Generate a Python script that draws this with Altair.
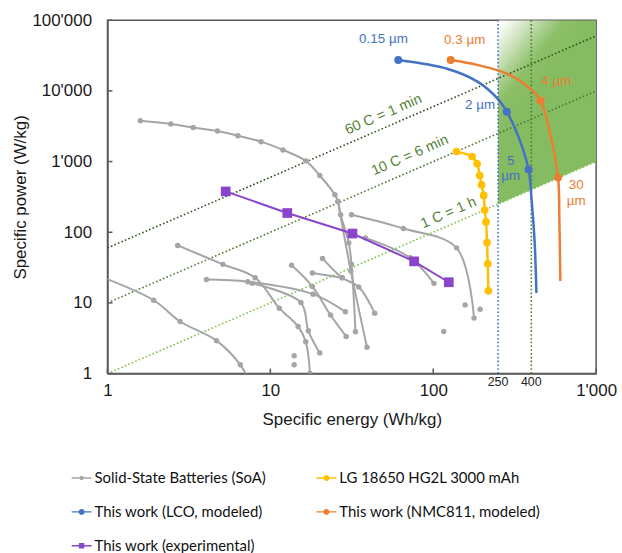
import altair as alt
import pandas as pd

# ---------------- data ----------------
# Solid-state batteries (state of the art), several curves
SOA_A_E = [1.59, 2.45, 3.36, 4.73, 6.32, 8.77, 11.95, 16.5, 20.1, 24.9, 26.0, 27.0, 30.3, 31.5, 33.3]
SOA_A_P = [3780, 3400, 3040, 2706, 2323, 1914, 1462, 1023, 635, 340, 273, 177, 70.7, 35.1, 3.9]
SOA_B_E = [26.0, 31.2, 39.2]
SOA_B_P = [273, 28.2, 2.35]
SOA_C_E = [31.5, 65.6, 139, 178]
SOA_C_P = [177, 113, 60.1, 6.09]
SOA_D_E = [38.3, 72.1, 101]
SOA_D_P = [83.2, 43.5, 18.9]
SOA_E_E = [0.85, 1.92, 2.79, 4.67, 6.54, 7.3]
SOA_E_P = [25, 10.9, 5.45, 2.92, 1.33, 0.85]
SOA_F_E = [2.70, 5.12, 8.07, 11.35, 14.8, 16.5, 17.5]
SOA_F_P = [65, 35.1, 22.7, 8.42, 4.64, 2.82, 1.01]
SOA_G_E = [4.05, 7.27, 18.3, 28.9]
SOA_G_P = [21.4, 19.95, 13.3, 7.47]
SOA_K_E = [7.74, 15.4, 17.1, 20.1]
SOA_K_P = [18.9, 10.1, 4.03, 1.96]
SOA_H_E = [13.5, 18.1, 23.4, 29.2]
SOA_H_P = [34, 17.1, 6.73, 3.35]
SOA_I_E = [20.9, 27.6, 34.9, 43.7]
SOA_I_P = [42.6, 22.7, 16.8, 7.16]
SOA_J_E = [18.1, 27.6]
SOA_J_P = [26.5, 22.7]
SOA_DOT_E = [14.0, 14.0, 157, 194, 116]
SOA_DOT_P = [1.79, 1.33, 9.37, 8.15, 3.94]

# LG 18650 HG2L 3000 mAh
LG_E = [139, 173, 186, 193, 198, 204, 207, 211, 214, 216, 218]
LG_P = [1383, 1175, 929, 635, 470, 332, 206, 140, 71.4, 35.8, 14.8]

# This work (LCO, modeled): curve and marked points
LCO_E = [61, 123, 188, 249, 283, 330, 385, 401, 419, 430]
LCO_P = [27300, 20400, 13400, 7710, 5060, 2400, 771, 301, 74.7, 13.8]
LCO_MARK_E = [61, 283, 385]
LCO_MARK_P = [27300, 5060, 771]

# This work (NMC811, modeled)
NMC_E = [128, 188, 287, 396, 456, 524, 584, 595, 603]
NMC_P = [27300, 23200, 17350, 10670, 7230, 2400, 595, 143, 20.4]
NMC_MARK_E = [128, 456, 584]
NMC_MARK_P = [27300, 7230, 595]

# This work (experimental)
EXP_E = [5.32, 12.7, 31.9, 76.3, 124.6]
EXP_P = [378, 187, 95.9, 38.7, 19.6]

# C-rate reference lines (P = C * E)
CRATE_E = [1, 1000]
C1_P = [1, 1000]
C10_P = [10, 10000]
C60_P = [60, 60000]

# Target region (>= 250 Wh/kg, above 1 C)
REGION_E = [250, 1000]
REGION_LOW = [250, 1000]
REGION_HIGH = [100000, 100000]

VLINE_BLUE = [250]
VLINE_GREEN = [400]

X_TICKS = [1, 10, 100, 1000]
Y_TICKS = [1, 10, 100, 1000, 10000, 100000]

NAMES = ["Solid-State Batteries (SoA)", "LG 18650 HG2L 3000 mAh",
         "This work (LCO, modeled)", "This work (NMC811, modeled)",
         "This work (experimental)"]
COLORS = ["#A5A5A5", "#FFC000", "#4472C4", "#ED7D31", "#8B45CC"]

# ---------------- build ----------------
W, H = 491, 355
FONT = "Liberation Sans"

xs = alt.Scale(type="log", domain=[1, 1000], nice=False)
ys = alt.Scale(type="log", domain=[1, 100000], nice=False)

label_expr = "replace(format(datum.value, ','), ',', \"'\")"

X_AXIS = alt.Axis(values=X_TICKS, labelExpr=label_expr, ticks=False, grid=False,
                  title="Specific energy (Wh/kg)", labelFlush=False, labelOverlap=False,
                  labelPadding=9, titlePadding=13)
Y_AXIS = alt.Axis(values=Y_TICKS, labelExpr=label_expr, ticks=False, grid=False,
                  title="Specific power (W/kg)", labelFlush=False, labelOverlap=False,
                  labelPadding=16, titlePadding=2)

def X(field="E"):
    return alt.X(f"{field}:Q", scale=xs, axis=X_AXIS)

def Y(field="P"):
    return alt.Y(f"{field}:Q", scale=ys, axis=Y_AXIS)

def df(e, p):
    return pd.DataFrame({"E": e, "P": p, "i": range(len(e))})

soa = [SOA_A_E, SOA_A_P, SOA_B_E, SOA_B_P, SOA_C_E, SOA_C_P, SOA_D_E, SOA_D_P,
       SOA_E_E, SOA_E_P, SOA_F_E, SOA_F_P, SOA_G_E, SOA_G_P, SOA_K_E, SOA_K_P,
       SOA_H_E, SOA_H_P, SOA_I_E, SOA_I_P, SOA_J_E, SOA_J_P]
frames = []
for k in range(0, len(soa), 2):
    f = df(soa[k], soa[k + 1])
    f["curve"] = k
    frames.append(f)
soa_df = pd.concat(frames, ignore_index=True)
soa_pts = pd.concat([soa_df, df(SOA_DOT_E, SOA_DOT_P)], ignore_index=True)

# green target region with fading gradient
region = alt.Chart(pd.DataFrame({"E": REGION_E, "P": REGION_LOW, "hi": REGION_HIGH})).mark_area(
    color=alt.Gradient(gradient="linear",
                       stops=[alt.GradientStop(color="#FFFFFF", offset=0),
                              alt.GradientStop(color="#FFFFFF", offset=0.06),
                              alt.GradientStop(color="#8CBF68", offset=0.7),
                              alt.GradientStop(color="#86BC61", offset=1)],
                       x1=0, y1=0, x2=0.3, y2=0.45),
    clip=True
).encode(x=X(), y=Y(), y2="hi:Q")

def crate(p, color):
    return alt.Chart(df(CRATE_E, p)).mark_line(
        color=color, strokeWidth=1.6, strokeDash=[1.6, 2.2], clip=True
    ).encode(x=X(), y=Y())

c60 = crate(C60_P, "#2F4F1F")
c10 = crate(C10_P, "#4E7A30")
c1 = crate(C1_P, "#7DC24B")

vblue = alt.Chart(pd.DataFrame({"E": VLINE_BLUE})).mark_rule(
    color="#4472C4", strokeWidth=1.6, strokeDash=[1.6, 2.2]).encode(x=X())
vgreen = alt.Chart(pd.DataFrame({"E": VLINE_GREEN})).mark_rule(
    color="#4E7A30", strokeWidth=1.6, strokeDash=[1.6, 2.2]).encode(x=X())

soa_line = alt.Chart(soa_df).mark_line(
    color="#A5A5A5", strokeWidth=2, interpolate="catmull-rom", clip=True
).encode(x=X(), y=Y(), detail="curve:N", order="i:Q")
soa_dot = alt.Chart(soa_pts).mark_circle(
    color="#A5A5A5", size=30, opacity=1, clip=True).encode(x=X(), y=Y())

exp_line = alt.Chart(df(EXP_E, EXP_P)).mark_line(
    color="#8B45CC", strokeWidth=2).encode(x=X(), y=Y(), order="i:Q")
exp_pt = alt.Chart(df(EXP_E, EXP_P)).mark_square(
    color="#8B45CC", size=95, opacity=1).encode(x=X(), y=Y())

lg_line = alt.Chart(df(LG_E, LG_P)).mark_line(
    color="#FFC000", strokeWidth=2.5, interpolate="catmull-rom").encode(x=X(), y=Y(), order="i:Q")
lg_pt = alt.Chart(df(LG_E, LG_P)).mark_circle(
    color="#FFC000", size=60, opacity=1).encode(x=X(), y=Y())

lco_line = alt.Chart(df(LCO_E, LCO_P)).mark_line(
    color="#4472C4", strokeWidth=2.5, interpolate="catmull-rom").encode(x=X(), y=Y(), order="i:Q")
lco_pt = alt.Chart(df(LCO_MARK_E, LCO_MARK_P)).mark_circle(
    color="#4472C4", size=65, opacity=1).encode(x=X(), y=Y())

nmc_line = alt.Chart(df(NMC_E, NMC_P)).mark_line(
    color="#ED7D31", strokeWidth=2.5, interpolate="catmull-rom").encode(x=X(), y=Y(), order="i:Q")
nmc_pt = alt.Chart(df(NMC_MARK_E, NMC_MARK_P)).mark_circle(
    color="#ED7D31", size=65, opacity=1).encode(x=X(), y=Y())

# annotations (positions given in data space; first line of multi-line labels)
ann = pd.DataFrame({
    "E": [49.5, 156, 240, 570, 299, 755],
    "P": [54600, 52300, 6350, 13800, 1033, 459],
    "t": ["0.15 µm", "0.3 µm", "2 µm", "4 µm", "5\nµm", "30\nµm"],
    "c": ["#4472C4", "#ED7D31", "#4472C4", "#ED7D31", "#4472C4", "#ED7D31"],
    "a": ["center", "center", "right", "center", "center", "center"],
})
ann_layers = []
for _, r in ann.iterrows():
    ann_layers.append(alt.Chart(pd.DataFrame([r])).mark_text(
        font=FONT, fontSize=13.5, color=r["c"], align=r["a"], baseline="middle",
        lineBreak="\n", lineHeight=16).encode(x=X(), y=Y(), text="t:N"))

crate_lab = pd.DataFrame({
    "E": [49.5, 72.1, 124.6],
    "P": [4590, 1215, 187],
    "t": ["60 C = 1 min", "10 C = 6 min", "1 C = 1 h"],
})
crate_text = alt.Chart(crate_lab).mark_text(
    font=FONT, fontSize=14.5, color="#548235", angle=336.55, align="center", baseline="middle"
).encode(x=X(), y=Y(), text="t:N")

# inward ticks
xt = alt.Chart(pd.DataFrame({"E": X_TICKS})).mark_rule(color="#595959", strokeWidth=1.5).encode(
    x=X(), y=alt.value(H - 5), y2=alt.value(H))
yt = alt.Chart(pd.DataFrame({"P": Y_TICKS})).mark_rule(color="#595959", strokeWidth=1.5).encode(
    y=Y(), x=alt.value(0), x2=alt.value(5))

# small labels for 250 and 400
vlab = alt.Chart(pd.DataFrame({"E": VLINE_BLUE + VLINE_GREEN, "t": ["250", "400"]})).mark_text(
    font=FONT, fontSize=12.5, color="#222222", baseline="middle"
).encode(x=X(), y=alt.value(H + 9), text="t:N")

# legend carrier (points outside the domain, clipped away)
shape_paths = [
    "M-1,-0.07H-0.2V0.07H-1Z M0.2,-0.07H1V0.07H0.2Z M0.22,0A0.22,0.22 0 1,1 -0.22,0A0.22,0.22 0 1,1 0.22,0Z",
    "M-1,-0.07H-0.28V0.07H-1Z M0.28,-0.07H1V0.07H0.28Z M0.3,0A0.3,0.3 0 1,1 -0.3,0A0.3,0.3 0 1,1 0.3,0Z",
    "M-1,-0.07H-0.28V0.07H-1Z M0.28,-0.07H1V0.07H0.28Z M0.3,0A0.3,0.3 0 1,1 -0.3,0A0.3,0.3 0 1,1 0.3,0Z",
    "M-1,-0.07H-0.28V0.07H-1Z M0.28,-0.07H1V0.07H0.28Z M0.3,0A0.3,0.3 0 1,1 -0.3,0A0.3,0.3 0 1,1 0.3,0Z",
    "M-1,-0.07H-0.27V0.07H-1Z M0.27,-0.07H1V0.07H0.27Z M-0.27,-0.27H0.27V0.27H-0.27Z",
]
LEG = alt.Legend(
    title=None, orient="none", legendX=-36, legendY=450, columns=2, direction="horizontal",
    columnPadding=50, rowPadding=16, labelFont="Lato", labelFontSize=15, labelColor="#111111",
    labelLimit=400, symbolSize=400, symbolStrokeWidth=0, labelOffset=3, gridAlign="each")
leg_df = pd.DataFrame({"name": NAMES, "E": [0.5] * 5, "P": [0.5] * 5})
legend_layer = alt.Chart(leg_df).mark_point(filled=True, opacity=1, size=400, clip=True).encode(
    x=X(), y=Y(),
    color=alt.Color("name:N", scale=alt.Scale(domain=NAMES, range=COLORS), legend=LEG),
    shape=alt.Shape("name:N", scale=alt.Scale(domain=NAMES, range=shape_paths), legend=LEG),
)

chart = alt.layer(
    region, c60, c10, c1, vblue, vgreen,
    soa_line, soa_dot, exp_line, exp_pt, lg_line, lg_pt,
    lco_line, nmc_line, lco_pt, nmc_pt,
    *ann_layers, crate_text, xt, yt, vlab, legend_layer
).properties(
    width=W, height=H,
    padding={"left": 12, "top": 10, "right": 5, "bottom": 5}
).configure_view(
    stroke="#595959", strokeWidth=1.5
).configure_axis(
    labelFont=FONT, titleFont=FONT, labelFontSize=17, titleFontSize=17,
    titleFontWeight="normal", labelColor="#1a1a1a", titleColor="#1a1a1a",
    domainColor="#595959", domainWidth=1.5
)

chart.save("out.html", embed_options={"renderer": "svg", "actions": False})
